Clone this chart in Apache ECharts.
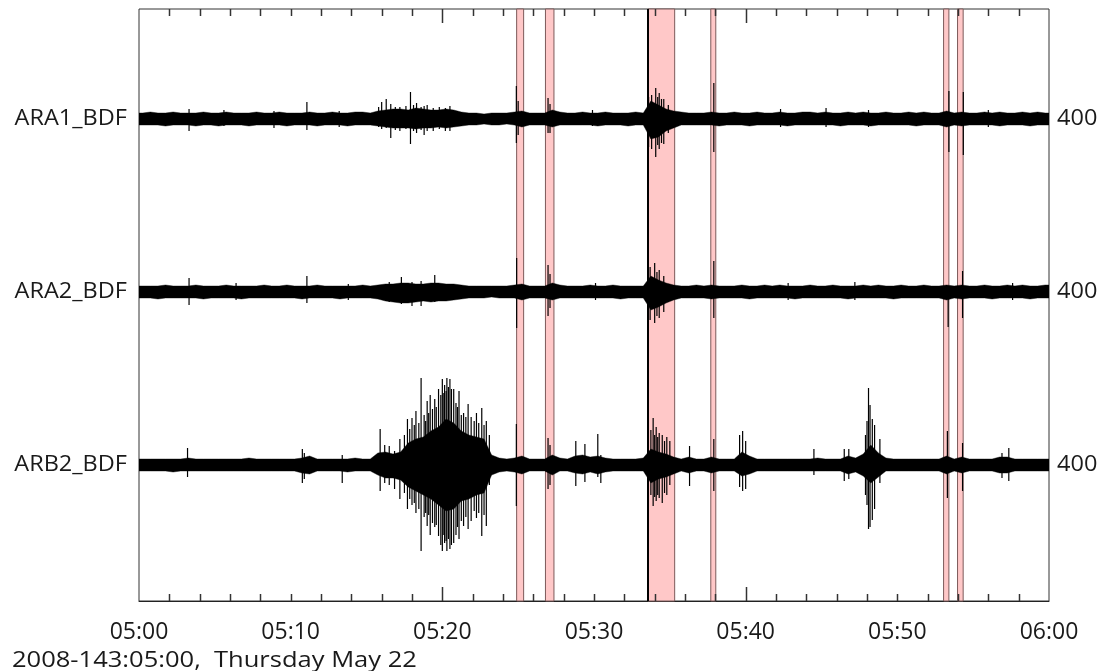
<!DOCTYPE html>
<html>
<head>
<meta charset="utf-8">
<script src="https://cdn.jsdelivr.net/npm/echarts@6/dist/echarts.min.js"></script>
<style>
  html, body { margin: 0; padding: 0; background: #ffffff; }
  #chart { width: 1114px; height: 671px; }
</style>
</head>
<body>
<div id="chart"></div>
<script>
// ---- Stations, top to bottom ----
const stations = ['ARA1_BDF', 'ARA2_BDF', 'ARB2_BDF'];
const scaleLabels = ['400', '400', '400'];
const xTickLabels = ['05:00', '05:10', '05:20', '05:30', '05:40', '05:50', '06:00'];
const caption = '2008-143:05:00,  Thursday May 22';

// Frame tick marks (minutes after 05:00): short every 2 min, long at 05:20 and 05:40
const shortTicks = [2,4,6,8,10,12,14,16,18,22,24,26,28,30,32,34,36,38,42,44,46,48,50,52,54,56,58];
const longTicks = [20, 40];

// Amplitude envelope, one value per 30 s bin (minutes after 05:00), in display counts
const BIN = 0.5;

const ara1Up = [
  6,7,6,6,7,6,6,6,7,6,   6,7,6,6,6,7,6,6,7,6,   6,6,7,6,6,7,6,6,7,7,
  6,8,9,10,10,9,11,10,9,9,   10,9,7,6,6,5,6,6,6,7,   8,6,6,6,9,7,6,6,7,6,
  6,7,6,6,6,7,6,18,14,10,   8,7,6,6,6,7,6,6,7,6,   6,7,6,6,7,6,6,7,7,6,
  7,6,6,7,6,7,6,6,7,6,   6,7,6,7,6,6,8,6,7,6,   6,7,6,7,6,6,7,6,7,6
];
const ara1Down = [
  6,6,6,7,6,6,6,7,6,6,   7,6,6,6,7,6,6,6,6,7,   6,6,6,7,6,6,6,7,6,6,
  6,7,8,9,9,9,10,9,9,8,   9,8,7,6,6,5,6,6,5,6,   8,6,6,6,8,6,6,6,6,6,
  7,6,6,6,7,6,6,20,18,12,   9,6,6,6,6,6,7,6,6,6,   7,6,6,6,6,7,6,6,6,6,
  6,6,7,6,6,6,7,6,6,6,   6,6,7,6,6,6,8,6,7,6,   6,6,6,7,6,6,6,7,6,6
];
const ara2Up = [
  6,6,6,7,6,6,6,7,6,6,   6,7,6,6,6,6,7,6,6,7,   6,6,6,7,6,6,6,6,6,7,
  6,7,8,8,9,9,8,8,9,9,   8,8,7,6,6,6,6,6,6,7,   8,6,6,6,9,7,6,6,6,7,
  6,6,7,6,6,6,6,16,12,9,   7,6,6,7,6,7,6,6,6,7,   6,6,7,6,7,6,6,6,7,6,
  6,7,6,6,6,7,6,7,6,6,   7,6,6,7,6,6,7,6,7,6,   6,7,6,6,7,6,7,6,6,7
];
const ara2Down = [
  6,6,7,6,6,6,6,6,7,6,   6,6,6,7,6,6,6,6,6,6,   6,7,6,6,6,6,7,6,6,6,
  6,7,9,10,11,11,10,9,10,9,   9,8,7,6,6,6,5,6,6,6,   8,6,6,6,8,6,6,6,6,6,
  6,6,6,7,6,6,6,18,15,11,   8,6,6,6,6,7,6,6,6,6,   7,6,6,6,6,6,7,6,6,6,
  6,6,6,7,6,6,6,6,6,7,   6,6,6,6,6,6,8,6,7,6,   6,6,7,6,6,6,6,7,6,6
];
const arb2Up = [
  6,6,6,6,6,6,7,6,6,6,   6,6,6,6,7,6,6,6,6,6,   6,7,9,6,6,6,6,6,7,6,
  6,12,13,11,13,22,26,28,34,38,   46,42,34,30,28,26,10,7,6,7,   9,6,6,6,10,7,6,9,10,8,
  9,7,6,6,6,6,7,16,13,11,   8,6,8,6,6,8,6,6,6,13,   9,6,6,6,6,6,6,6,6,7,
  6,6,6,9,7,11,20,12,7,6,   6,6,6,6,6,6,9,6,8,6,   6,6,6,8,8,6,6,6,6,6
];
const arb2Down = [
  6,6,6,6,7,6,6,6,6,6,   6,6,6,6,6,6,6,6,6,6,   6,8,9,6,6,6,6,7,6,6,
  6,10,13,13,15,22,26,30,34,40,   46,44,36,34,30,28,10,7,6,7,   9,6,6,6,10,6,6,8,9,7,
  9,7,6,6,6,6,6,18,14,12,   9,6,8,6,6,8,6,6,6,11,   9,6,6,6,6,6,6,6,6,6,
  6,6,6,9,7,11,18,12,6,6,   6,6,6,6,6,6,9,6,8,6,   6,6,6,8,8,6,6,6,6,6
];

// Single-sample peaks: [minute, up, down]
const ara1Peaks = [
  [3.3,10,12],[5.6,9,7],[8.9,8,9],[11.07,17,11],[13.2,8,8],[15.8,12,8],[16.0,17,10],
  [16.3,20,9],[16.6,15,19],[16.9,12,11],[17.2,12,12],[17.6,13,10],[17.9,27,25],
  [18.1,14,12],[18.3,16,14],[18.6,12,11],[18.8,13,16],[19.0,14,12],[19.4,11,12],
  [19.8,12,10],[20.2,11,12],[20.5,13,12],[24.88,33,24],[25.0,18,16],[26.97,21,14],
  [27.1,15,14],[29.9,9,7],[33.6,22,28],[33.8,24,30],[34.07,31,38],[34.2,22,26],
  [34.3,26,30],[34.45,20,24],[34.6,20,25],[34.9,14,14],[37.9,36,33],[42.3,10,8],
  [45.3,11,8],[48.1,9,8],[53.4,28,33],[54.35,27,36],[56.0,9,8]
];
const ara2Peaks = [
  [3.3,14,13],[6.4,9,8],[11.07,16,11],[13.8,8,8],[16.5,10,10],[17.3,15,12],[18.0,10,14],
  [18.6,11,14],[19.5,17,10],[24.9,34,36],[26.97,27,24],[27.1,18,16],[30.1,9,8],
  [33.7,25,28],[34.0,29,31],[34.15,20,24],[34.3,22,26],[34.6,16,20],[37.9,31,26],
  [42.8,9,8],[47.2,10,8],[53.35,6,35],[54.3,21,26],[57.6,9,8]
];
const arb2Peaks = [
  [3.2,17,12],[10.77,16,18],[10.9,12,14],[13.4,10,18],[15.9,36,26],[16.2,20,18],
  [16.5,19,20],[16.85,14,24],[17.2,26,34],[17.5,30,28],[17.7,46,44],[17.85,36,34],
  [18.0,47,40],[18.15,40,38],[18.26,54,48],[18.45,42,44],[18.6,87,86],[18.8,50,52],
  [18.9,44,48],[19.0,64,61],[19.1,52,50],[19.2,70,70],[19.35,56,58],[19.5,66,62],
  [19.6,58,60],[19.75,76,71],[19.9,70,80],[20.0,86,86],[20.1,72,70],[20.15,80,78],
  [20.25,74,76],[20.3,87,86],[20.4,78,74],[20.5,86,84],[20.6,76,80],[20.75,76,78],
  [20.9,62,70],[21.0,58,62],[21.1,74,74],[21.25,50,56],[21.4,52,61],[21.55,48,52],
  [21.7,61,64],[21.9,48,56],[22.1,44,46],[22.25,52,53],[22.4,42,48],[22.6,57,71],
  [22.75,40,50],[22.9,44,61],[23.1,30,20],[24.88,41,41],[26.97,27,24],[27.1,20,20],
  [28.8,24,21],[29.4,21,17],[30.25,31,12],[30.45,10,18],[33.75,35,30],[33.9,47,41],
  [34.0,30,32],[34.1,38,36],[34.2,28,30],[34.3,32,33],[34.5,30,38],[34.65,24,28],
  [34.8,28,30],[35.0,24,20],[36.3,19,21],[37.9,26,26],[39.6,30,22],[39.8,34,26],
  [40.0,24,24],[44.5,16,10],[46.5,16,16],[46.8,16,14],[47.9,30,30],[48.0,44,40],
  [48.1,77,64],[48.2,60,62],[48.35,46,55],[48.5,40,44],[48.85,26,18],[53.3,34,33],
  [54.3,22,26],[56.9,12,13],[57.35,17,16]
];

// Detection windows [start, end] in minutes, and the pick line
const windows = [[24.9,25.36],[26.8,27.36],[33.56,35.32],[37.7,38.03],[53.05,53.4],[53.97,54.34]];
const picks = [33.56];

const envelopes = [[ara1Up, ara1Down], [ara2Up, ara2Down], [arb2Up, arb2Down]];
const peaks = [ara1Peaks, ara2Peaks, arb2Peaks];

// ---- layout / style ----
const TRACE_GAP = 173;          // vertical distance between trace baselines (counts)
const Y_MIN = -482, Y_MAX = 110;
const FONT = "'Open Sans', 'Noto Sans', sans-serif";
const TEXT_COLOR = '#1a1a1a';
const TEXT_STRETCH = 1.12;      // horizontal stretch of the side texts
const CAPTION_STRETCH = 1.16;
const TICK_COLOR = '#333';
const GRID = { left: 139, right: 65, top: 9, bottom: 70 };

const chart = echarts.init(document.getElementById('chart'), null, { renderer: 'canvas' });

// filled envelope polygon through the bin centres
function envelopeRenderer(center, up, dn) {
  return function (params, api) {
    const n = up.length;
    const pts = [api.coord([0, center + up[0]])];
    for (let k = 0; k < n; k++) pts.push(api.coord([k * BIN + BIN / 2, center + up[k]]));
    pts.push(api.coord([n * BIN, center + up[n - 1]]));
    pts.push(api.coord([n * BIN, center - dn[n - 1]]));
    for (let k = n - 1; k >= 0; k--) pts.push(api.coord([k * BIN + BIN / 2, center - dn[k]]));
    pts.push(api.coord([0, center - dn[0]]));
    return {
      type: 'polygon',
      shape: { points: pts },
      style: { fill: '#000', stroke: '#000', lineWidth: 0.4 }
    };
  };
}
function peakRenderer(center) {
  return function (params, api) {
    const t = api.value(0), up = api.value(1), dn = api.value(2);
    const a = api.coord([t, center + up]);
    const b = api.coord([t, center - dn]);
    return {
      type: 'line',
      shape: { x1: a[0], y1: a[1], x2: b[0], y2: b[1] },
      style: { stroke: '#000', lineWidth: 1.2 }
    };
  };
}
// inward tick marks on the top and bottom frame lines
function tickRenderer(len) {
  return function (params, api) {
    const t = api.value(0);
    const top = api.coord([t, Y_MAX]);
    const bot = api.coord([t, Y_MIN]);
    const x = Math.round(top[0]) + 0.5;
    const style = { stroke: TICK_COLOR, lineWidth: 1.5 };
    return {
      type: 'group',
      children: [
        { type: 'line', shape: { x1: x, y1: top[1], x2: x, y2: top[1] + len }, style },
        { type: 'line', shape: { x1: x, y1: bot[1], x2: x, y2: bot[1] - len }, style }
      ]
    };
  };
}

const series = [];
// frame ticks
series.push({
  type: 'custom', z: 5, clip: false, silent: true, encode: { x: 0, y: 0 },
  renderItem: tickRenderer(7), data: shortTicks.map(t => [t])
});
series.push({
  type: 'custom', z: 5, clip: false, silent: true, encode: { x: 0, y: 0 },
  renderItem: tickRenderer(14), data: longTicks.map(t => [t])
});
// detection windows
series.push({
  type: 'line', data: [], z: 1, silent: true,
  markArea: {
    silent: true,
    itemStyle: { color: '#ffc8c8', borderColor: '#7d5a5a', borderWidth: 1 },
    data: windows.map(w => [{ xAxis: w[0] }, { xAxis: w[1] }])
  },
  markLine: {
    silent: true, symbol: ['none', 'none'], label: { show: false },
    lineStyle: { color: '#000', width: 2, type: 'solid' },
    data: picks.map(p => ({ xAxis: p }))
  }
});
stations.forEach((name, i) => {
  const center = -i * TRACE_GAP;
  const [up, dn] = envelopes[i];
  series.push({
    type: 'custom', name, z: 3, clip: true, silent: true,
    renderItem: envelopeRenderer(center, up, dn),
    encode: { x: 0, y: 1 },
    data: [[0, center]]
  });
  series.push({
    type: 'custom', name: name + ' peaks', z: 3, clip: true, silent: true,
    renderItem: peakRenderer(center),
    encode: { x: 0, y: 1 },
    data: peaks[i]
  });
});
// station names and scale values
series.push({
  type: 'custom', z: 4, clip: false, silent: true,
  encode: { x: 0, y: 0 },
  data: stations.map((s, i) => [i]),
  renderItem: function (params, api) {
    const i = api.value(0);
    const l = api.coord([0, -i * TRACE_GAP]);
    const r = api.coord([60, -i * TRACE_GAP]);
    const font = '21px ' + FONT;
    return {
      type: 'group',
      children: [
        { type: 'text', x: l[0] - 12, y: l[1], scaleX: TEXT_STRETCH,
          style: { text: stations[i], align: 'right', verticalAlign: 'middle', font, fill: TEXT_COLOR } },
        { type: 'text', x: r[0] + 8, y: r[1], scaleX: TEXT_STRETCH,
          style: { text: scaleLabels[i], align: 'left', verticalAlign: 'middle', font, fill: TEXT_COLOR } }
      ]
    };
  }
});

chart.setOption({
  animation: false,
  backgroundColor: '#ffffff',
  grid: Object.assign({ show: true, borderColor: '#333', borderWidth: 1, backgroundColor: 'transparent' }, GRID),
  xAxis: {
    type: 'value', min: 0, max: 60, interval: 10,
    axisLine: { show: true, onZero: false, lineStyle: { color: '#222', width: 1 } },
    axisTick: { show: false },
    splitLine: { show: false },
    axisLabel: {
      show: true, margin: 20, fontSize: 23, fontFamily: FONT, color: TEXT_COLOR,
      formatter: v => xTickLabels[Math.round(v / 10)]
    }
  },
  yAxis: {
    type: 'value', min: Y_MIN, max: Y_MAX, axisLine: { show: false }, axisTick: { show: false },
    axisLabel: { show: false }, splitLine: { show: false }
  },
  graphic: [{
    type: 'text', x: 12, y: 661, scaleX: CAPTION_STRETCH,
    style: { text: caption, font: '22px ' + FONT, fill: TEXT_COLOR, verticalAlign: 'middle' }
  }],
  series
});
</script>
</body>
</html>
